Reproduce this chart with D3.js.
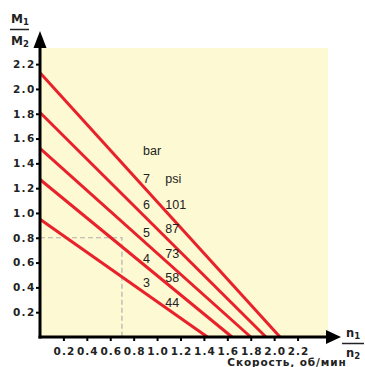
<!DOCTYPE html>
<html>
<head>
<meta charset="utf-8">
<script src="https://cdn.jsdelivr.net/npm/d3@7"></script>
<style>
  body { margin: 0; background: #fff; }
  svg { display: block; font-family: "Liberation Sans", Arial, sans-serif; }
</style>
</head>
<body>
<div id="chart"></div>
<script>
// pressure lines: where each meets the M1/M2 axis and the n1/n2 axis
const yIntercepts = [2.13, 1.81, 1.52, 1.27, 0.95];
const xIntercepts = [2.05, 1.93, 1.80, 1.64, 1.43];
const barLabels = ['7', '6', '5', '4', '3'];
const barLabelY = [1.24, 1.03, 0.81, 0.60, 0.40];
const psiLabels = ['psi', '101', '87', '73', '58', '44'];
const psiLabelY = [1.24, 1.03, 0.84, 0.64, 0.44, 0.24];
const xTicks = [0.2, 0.4, 0.6, 0.8, 1.0, 1.2, 1.4, 1.6, 1.8, 2.0, 2.2];
const yTicks = [0.2, 0.4, 0.6, 0.8, 1.0, 1.2, 1.4, 1.6, 1.8, 2.0, 2.2];
const refPoint = { x: 0.70, y: 0.8 };

const width = 365;
const height = 367;
const boldFont = '"DejaVu Sans", Verdana, sans-serif';

const x = d3.scaleLinear().domain([0, 2.46]).range([40, 328]);
const y = d3.scaleLinear().domain([0, 2.33]).range([337, 48]);

const svg = d3.select('#chart')
  .append('svg')
  .attr('width', width)
  .attr('height', height);

// plot background
svg.append('rect')
  .attr('x', x(0))
  .attr('y', y(2.33))
  .attr('width', x(2.46) - x(0))
  .attr('height', y(0) - y(2.33))
  .attr('fill', '#fdf9d3');

// dashed reading lines
svg.append('path')
  .attr('d', `M${x(0)},${y(refPoint.y)}H${x(refPoint.x)}V${y(0)}`)
  .attr('fill', 'none')
  .attr('stroke', '#b0b0b0')
  .attr('stroke-width', 1.2)
  .attr('stroke-dasharray', '5,3');

// red pressure lines
svg.append('g')
  .selectAll('line')
  .data(yIntercepts)
  .enter()
  .append('line')
  .attr('x1', x(0))
  .attr('y1', d => y(d))
  .attr('x2', (d, i) => x(xIntercepts[i]))
  .attr('y2', y(0))
  .attr('stroke', '#e8212b')
  .attr('stroke-width', 3);

// labels inside plot
const labelG = svg.append('g')
  .attr('font-size', 12.5)
  .attr('fill', '#222');
labelG.append('text')
  .attr('x', x(0.88))
  .attr('y', y(1.47))
  .text('bar');
labelG.selectAll('.bar')
  .data(barLabels)
  .enter()
  .append('text')
  .attr('class', 'bar')
  .attr('x', x(0.88))
  .attr('y', (d, i) => y(barLabelY[i]))
  .text(d => d);
labelG.selectAll('.psi')
  .data(psiLabels)
  .enter()
  .append('text')
  .attr('class', 'psi')
  .attr('x', x(1.07))
  .attr('y', (d, i) => y(psiLabelY[i]))
  .text(d => d);

// axes
const xAxis = svg.append('g')
  .attr('transform', `translate(0,${y(0)})`)
  .call(d3.axisBottom(x).tickValues(xTicks).tickFormat(d3.format('.1f')).tickSize(4).tickPadding(6));
const yAxis = svg.append('g')
  .attr('transform', `translate(${x(0)},0)`)
  .call(d3.axisLeft(y).tickValues(yTicks).tickFormat(d3.format('.1f')).tickSize(4).tickPadding(0));

[xAxis, yAxis].forEach(a => {
  a.select('.domain').remove();
  a.selectAll('.tick line').attr('stroke', '#000').attr('stroke-width', 2);
  a.selectAll('.tick text')
    .attr('fill', '#222')
    .attr('font-size', 10.5)
    .attr('font-weight', 'bold')
    .attr('font-family', boldFont);
});
xAxis.selectAll('.tick text')
  .attr('letter-spacing', 1)
  .attr('dx', 0.5)
  .attr('dy', '0.78em');
yAxis.selectAll('.tick text')
  .attr('letter-spacing', 1.3)
  .attr('x', -4.5);

// axis lines with arrow heads
svg.append('line')
  .attr('x1', x(0)).attr('y1', y(0) + 1.5)
  .attr('x2', x(0)).attr('y2', 46)
  .attr('stroke', '#000').attr('stroke-width', 3);
svg.append('path')
  .attr('d', `M${x(0)},31L${x(0) + 6.5},48L${x(0) - 6.5},48Z`)
  .attr('fill', '#000');
svg.append('line')
  .attr('x1', x(0) - 1.5).attr('y1', y(0))
  .attr('x2', 328).attr('y2', y(0))
  .attr('stroke', '#000').attr('stroke-width', 3);
svg.append('path')
  .attr('d', `M341,${y(0)}L326,${y(0) - 7}L326,${y(0) + 7}Z`)
  .attr('fill', '#000');

// fraction axis titles
function fraction(cx, top, gap, letter, size) {
  const g = svg.append('g')
    .attr('font-weight', 'bold')
    .attr('fill', '#222')
    .attr('font-family', boldFont);
  [['1', top], ['2', top + gap]].forEach(([sub, yy]) => {
    const t = g.append('text').attr('x', cx).attr('y', yy)
      .attr('text-anchor', 'middle').attr('font-size', size);
    t.append('tspan').text(letter);
    t.append('tspan').attr('font-size', 8.5).attr('dy', 1.5).text(sub);
  });
  return g;
}
fraction(20, 23, 22, 'M', 12);
svg.append('line').attr('x1', 10).attr('x2', 29).attr('y1', 29.5).attr('y2', 29.5)
  .attr('stroke', '#222').attr('stroke-width', 1.5);
fraction(353, 337, 20, 'n', 11.5);
svg.append('line').attr('x1', 342).attr('x2', 364).attr('y1', 343.5).attr('y2', 343.5)
  .attr('stroke', '#222').attr('stroke-width', 1.5);

svg.append('text')
  .attr('x', 287)
  .attr('y', 366)
  .attr('text-anchor', 'middle')
  .attr('font-size', 10.5)
  .attr('font-weight', 'bold')
  .attr('font-family', boldFont)
  .attr('letter-spacing', 0.9)
  .attr('fill', '#222')
  .text('Скорость, об/мин');
</script>
</body>
</html>
